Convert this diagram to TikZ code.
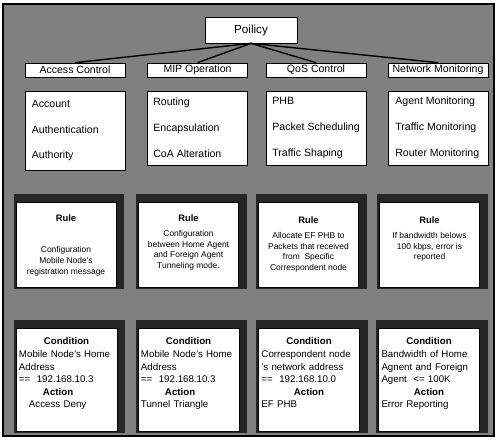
\documentclass[tikz,border=0pt]{standalone}
\usepackage{fontspec}
\setmainfont{Liberation Sans}
\usetikzlibrary{positioning,calc,backgrounds}

\newcommand{\rulehead}{{\bfseries\fontsize{8}{9}\selectfont Rule}}
\newcommand{\condhead}[1]{\makebox[\linewidth]{\bfseries #1}}

\tikzset{
  wbox/.style={draw=black,fill=white,line width=0.6pt,inner sep=0pt},
  headbox/.style={wbox,minimum width=3cm,minimum height=0.42cm,
                  font=\fontsize{9}{11}\selectfont},
  itembox/.style={wbox,minimum width=3cm},
  itemtext/.style={inner sep=0pt,align=left,font=\fontsize{9}{12}\selectfont},
  rulebox/.style={wbox,minimum width=3cm,minimum height=2.55cm},
  condbox/.style={wbox,minimum width=3.03cm,minimum height=3.09cm},
  ruletext/.style={inner sep=0pt,align=center,font=\fontsize{7.2}{9}\selectfont},
  condtext/.style={inner sep=0pt,align=left,text width=2.85cm,
                   font=\fontsize{8.3}{10.7}\selectfont},
  frame/.style={fill=black!85}
}

\begin{document}
\begin{tikzpicture}[x=0.03cm,y=-0.03cm]
  \useasboundingbox (0,0) rectangle (497,439);

  % ---------------- top of the tree ----------------
  \node[wbox,minimum width=2.76cm,minimum height=0.78cm,
        font=\fontsize{10}{12}\selectfont] (pol) at (251,30) {Poilicy};
  \foreach \n/\x/\t in {h1/75/Access Control, h2/197.5/MIP Operation,
                        h3/316/QoS Control, h4/438/Network Monitoring}
    \node[headbox] (\n) at (\x,70) {\t};
  \foreach \n in {h1,h2,h3,h4}
    \draw[line width=1.2pt] (pol.south) -- (\n.north);

  % ---------------- function lists ----------------
  \node[itembox,minimum height=2.37cm] (it1) at (75,130.5) {};
  \foreach \n/\x in {it2/197.5,it3/316.5,it4/438.5}
    \node[itembox,minimum height=2.22cm] (\n) at (\x,128) {};
  \node[itemtext,right=0.21cm of it1.west] (it1t)
    {Account\\[10pt]Authentication\\[10pt]Authority};
  \node[itemtext,right=0.18cm of it2.west] (it2t)
    {Routing\\[10pt]Encapsulation\\[10pt]CoA Alteration};
  \node[itemtext,right=0.18cm of it3.west] (it3t)
    {PHB\\[10pt]Packet Scheduling\\[10pt]Traffic Shaping};
  \node[itemtext,right=0.21cm of it4.west] (it4t)
    {Agent Monitoring\\[10pt]Traffic Monitoring\\[10pt]Router Monitoring};

  % ---------------- rules ----------------
  \foreach \n/\x in {r1/66,r2/188.5,r3/308.5,r4/429.5}
    \node[rulebox] (\n) at (\x,244.5) {};
  \node[ruletext,below=0.38cm of r1.north] (r1t)
    {\rulehead\\[18pt]Configuration\\Mobile Node's\\registration message};
  \node[ruletext,below=0.38cm of r2.north] (r2t)
    {\rulehead\\[4pt]Configuration\\between Home Agent\\and Foreign Agent\\Tunneling mode.};
  \node[ruletext,below=0.44cm of r3.north] (r3t)
    {\rulehead\\[4pt]Allocate EF PHB to\\Packets that received\\from~ Specific\\Correspondent node};
  \node[ruletext,below=0.44cm of r4.north] (r4t)
    {\rulehead\\[4pt]If bandwidth belows\\100 kbps, error is\\reported};

  % ---------------- conditions / actions ----------------
  \foreach \n/\x in {c1/66.5,c2/188.5,c3/309,c4/429}
    \node[condbox] (\n) at (\x,379.5) {};
  \node[condtext,below=0.3cm of c1.north] (c1t)
    {\condhead{Condition}\\Mobile Node's Home\\Address\\==~~192.168.10.3\\
     \hspace*{0.72cm}\textbf{Action}\\\hspace*{0.3cm}Access Deny};
  \node[condtext,below=0.3cm of c2.north] (c2t)
    {\condhead{Condition}\\Mobile Node's Home\\Address\\==~~192.168.10.3\\
     \hspace*{0.72cm}\textbf{Action}\\Tunnel Triangle};
  \node[condtext,below=0.3cm of c3.north] (c3t)
    {\condhead{Condition}\\Correspondent node\\'s network address\\==~~192.168.10.0\\
     \condhead{Action}\\EF PHB};
  \node[condtext,below=0.3cm of c4.north] (c4t)
    {\condhead{Condition}\\Bandwidth of Home\\Agnent and Foreign\\Agent~~<= 100K\\
     \condhead{Action}\\Error Reporting};

  % ---------------- backdrop and dark frames ----------------
  \begin{scope}[on background layer]
    \fill[black!50] (3,4) rectangle (494,436);
    \draw[line width=1pt] (3,4) rectangle (494,436);
    \foreach \n in {r1,r2,r3,r4,c1,c2,c3,c4}
      \fill[frame] ($(\n.north west)+(-2,-8)$) rectangle ($(\n.south east)+(8,2)$);
  \end{scope}
\end{tikzpicture}
\end{document}
